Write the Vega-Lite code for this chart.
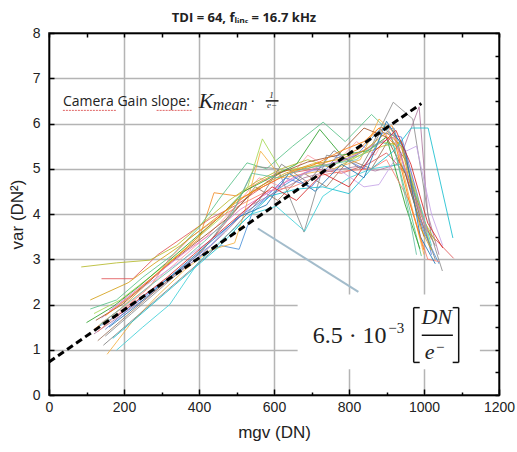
{
  "$schema": "https://vega.github.io/schema/vega-lite/v6.json",
  "width": 450,
  "height": 362,
  "autosize": "none",
  "padding": {"left": 49, "top": 33, "right": 18, "bottom": 57},
  "background": "white",
  "view": {"stroke": "#000", "strokeWidth": 1.5},
  "title": {"text": "TDI = 64, fₗᵢₙₑ = 16.7 kHz", "font": "Open Sans", "fontSize": 13, "fontWeight": "bold", "color": "#222", "dx": -30, "offset": 1},
  "datasets": {
    "lines": [
      {"s":"s01","x":130,"y":1.5},{"s":"s01","x":200,"y":1.85},{"s":"s01","x":270,"y":2.3},{"s":"s01","x":340,"y":2.7},{"s":"s01","x":410,"y":3.1},{"s":"s01","x":460,"y":3.3},{"s":"s01","x":507,"y":3.22},{"s":"s01","x":545,"y":4.1},{"s":"s01","x":610,"y":4.55},{"s":"s01","x":680,"y":4.9},{"s":"s01","x":750,"y":5.1},{"s":"s01","x":820,"y":5.3},{"s":"s01","x":880,"y":5.85},{"s":"s01","x":920,"y":5.9},{"s":"s01","x":960,"y":4.6},{"s":"s01","x":1000,"y":3.6},{"s":"s01","x":1040,"y":2.9},
      {"s":"s02","x":120,"y":1.45},{"s":"s02","x":190,"y":1.9},{"s":"s02","x":260,"y":2.45},{"s":"s02","x":330,"y":3.0},{"s":"s02","x":400,"y":3.45},{"s":"s02","x":440,"y":4.47},{"s":"s02","x":500,"y":4.4},{"s":"s02","x":560,"y":4.7},{"s":"s02","x":620,"y":4.95},{"s":"s02","x":690,"y":5.0},{"s":"s02","x":760,"y":5.2},{"s":"s02","x":830,"y":5.45},{"s":"s02","x":880,"y":5.9},{"s":"s02","x":915,"y":5.95},{"s":"s02","x":950,"y":5.0},{"s":"s02","x":1020,"y":3.44},
      {"s":"s03","x":110,"y":1.9},{"s":"s03","x":180,"y":2.1},{"s":"s03","x":250,"y":2.6},{"s":"s03","x":330,"y":3.1},{"s":"s03","x":400,"y":3.7},{"s":"s03","x":460,"y":4.4},{"s":"s03","x":528,"y":5.13},{"s":"s03","x":580,"y":5.0},{"s":"s03","x":650,"y":5.5},{"s":"s03","x":731,"y":6.03},{"s":"s03","x":790,"y":5.6},{"s":"s03","x":860,"y":6.2},{"s":"s03","x":910,"y":5.8},{"s":"s03","x":950,"y":4.5},{"s":"s03","x":993,"y":3.07},
      {"s":"s04","x":140,"y":2.57},{"s":"s04","x":224,"y":2.57},{"s":"s04","x":290,"y":3.1},{"s":"s04","x":360,"y":3.5},{"s":"s04","x":430,"y":3.9},{"s":"s04","x":500,"y":4.2},{"s":"s04","x":570,"y":4.6},{"s":"s04","x":640,"y":4.9},{"s":"s04","x":710,"y":5.0},{"s":"s04","x":780,"y":4.9},{"s":"s04","x":850,"y":5.1},{"s":"s04","x":900,"y":5.35},{"s":"s04","x":950,"y":4.9},{"s":"s04","x":1000,"y":3.7},{"s":"s04","x":1079,"y":3.02},
      {"s":"s05","x":120,"y":1.35},{"s":"s05","x":190,"y":1.75},{"s":"s05","x":260,"y":2.15},{"s":"s05","x":330,"y":2.6},{"s":"s05","x":400,"y":3.05},{"s":"s05","x":470,"y":3.6},{"s":"s05","x":540,"y":4.2},{"s":"s05","x":610,"y":4.5},{"s":"s05","x":680,"y":4.8},{"s":"s05","x":750,"y":4.95},{"s":"s05","x":820,"y":5.05},{"s":"s05","x":870,"y":4.95},{"s":"s05","x":930,"y":5.1},{"s":"s05","x":987,"y":6.37},{"s":"s05","x":1010,"y":4.0},{"s":"s05","x":1040,"y":3.1},
      {"s":"s06","x":130,"y":1.2},{"s":"s06","x":200,"y":1.7},{"s":"s06","x":270,"y":2.2},{"s":"s06","x":340,"y":2.7},{"s":"s06","x":410,"y":3.2},{"s":"s06","x":480,"y":3.9},{"s":"s06","x":550,"y":4.6},{"s":"s06","x":610,"y":4.3},{"s":"s06","x":680,"y":4.9},{"s":"s06","x":740,"y":4.6},{"s":"s06","x":800,"y":5.2},{"s":"s06","x":860,"y":5.0},{"s":"s06","x":910,"y":5.7},{"s":"s06","x":950,"y":5.2},{"s":"s06","x":1000,"y":3.8},{"s":"s06","x":1030,"y":3.3},
      {"s":"s07","x":140,"y":1.6},{"s":"s07","x":210,"y":2.0},{"s":"s07","x":280,"y":2.5},{"s":"s07","x":350,"y":3.0},{"s":"s07","x":420,"y":3.5},{"s":"s07","x":490,"y":4.1},{"s":"s07","x":560,"y":4.8},{"s":"s07","x":620,"y":4.6},{"s":"s07","x":690,"y":5.3},{"s":"s07","x":750,"y":5.0},{"s":"s07","x":820,"y":5.6},{"s":"s07","x":870,"y":5.3},{"s":"s07","x":910,"y":5.9},{"s":"s07","x":955,"y":5.2},{"s":"s07","x":1000,"y":3.9},
      {"s":"s08","x":150,"y":1.3},{"s":"s08","x":220,"y":1.8},{"s":"s08","x":290,"y":2.3},{"s":"s08","x":360,"y":2.8},{"s":"s08","x":430,"y":3.4},{"s":"s08","x":500,"y":4.2},{"s":"s08","x":550,"y":5.05},{"s":"s08","x":610,"y":5.0},{"s":"s08","x":680,"y":3.6},{"s":"s08","x":740,"y":5.3},{"s":"s08","x":800,"y":5.2},{"s":"s08","x":860,"y":5.5},{"s":"s08","x":918,"y":6.47},{"s":"s08","x":970,"y":6.1},{"s":"s08","x":1020,"y":3.5},{"s":"s08","x":1049,"y":2.74},
      {"s":"s09","x":86,"y":2.83},{"s":"s09","x":180,"y":2.92},{"s":"s09","x":269,"y":2.98},{"s":"s09","x":340,"y":3.3},{"s":"s09","x":410,"y":3.8},{"s":"s09","x":480,"y":4.3},{"s":"s09","x":550,"y":4.7},{"s":"s09","x":620,"y":5.0},{"s":"s09","x":690,"y":5.2},{"s":"s09","x":760,"y":5.0},{"s":"s09","x":830,"y":5.3},{"s":"s09","x":890,"y":5.5},{"s":"s09","x":940,"y":5.6},{"s":"s09","x":990,"y":4.0},{"s":"s09","x":1030,"y":3.4},
      {"s":"s10","x":180,"y":0.99},{"s":"s10","x":250,"y":1.5},{"s":"s10","x":322,"y":2.0},{"s":"s10","x":397,"y":2.92},{"s":"s10","x":470,"y":3.5},{"s":"s10","x":540,"y":4.0},{"s":"s10","x":606,"y":4.17},{"s":"s10","x":682,"y":3.62},{"s":"s10","x":730,"y":4.39},{"s":"s10","x":800,"y":4.8},{"s":"s10","x":860,"y":5.0},{"s":"s10","x":940,"y":5.1},{"s":"s10","x":990,"y":4.2},{"s":"s10","x":1020,"y":3.3},
      {"s":"s11","x":150,"y":1.45},{"s":"s11","x":220,"y":1.95},{"s":"s11","x":290,"y":2.4},{"s":"s11","x":360,"y":2.85},{"s":"s11","x":430,"y":3.3},{"s":"s11","x":500,"y":3.9},{"s":"s11","x":570,"y":4.3},{"s":"s11","x":630,"y":4.8},{"s":"s11","x":700,"y":4.6},{"s":"s11","x":770,"y":5.3},{"s":"s11","x":840,"y":5.0},{"s":"s11","x":890,"y":5.8},{"s":"s11","x":940,"y":5.7},{"s":"s11","x":980,"y":4.5},{"s":"s11","x":1020,"y":3.1},
      {"s":"s12","x":155,"y":0.9},{"s":"s12","x":220,"y":1.6},{"s":"s12","x":290,"y":2.2},{"s":"s12","x":360,"y":2.75},{"s":"s12","x":430,"y":3.2},{"s":"s12","x":495,"y":3.36},{"s":"s12","x":520,"y":4.0},{"s":"s12","x":564,"y":5.39},{"s":"s12","x":620,"y":4.8},{"s":"s12","x":690,"y":4.9},{"s":"s12","x":760,"y":5.0},{"s":"s12","x":830,"y":5.2},{"s":"s12","x":880,"y":6.1},{"s":"s12","x":920,"y":5.8},{"s":"s12","x":960,"y":4.4},{"s":"s12","x":1000,"y":3.1},
      {"s":"s13","x":120,"y":1.8},{"s":"s13","x":190,"y":2.1},{"s":"s13","x":260,"y":2.55},{"s":"s13","x":330,"y":3.0},{"s":"s13","x":400,"y":3.5},{"s":"s13","x":470,"y":4.0},{"s":"s13","x":530,"y":4.6},{"s":"s13","x":569,"y":5.66},{"s":"s13","x":620,"y":4.95},{"s":"s13","x":690,"y":5.05},{"s":"s13","x":760,"y":5.1},{"s":"s13","x":830,"y":5.3},{"s":"s13","x":890,"y":5.6},{"s":"s13","x":940,"y":5.5},{"s":"s13","x":985,"y":4.3},{"s":"s13","x":1020,"y":3.2},
      {"s":"s14","x":100,"y":1.6},{"s":"s14","x":170,"y":1.95},{"s":"s14","x":240,"y":2.4},{"s":"s14","x":310,"y":2.9},{"s":"s14","x":380,"y":3.4},{"s":"s14","x":450,"y":3.9},{"s":"s14","x":520,"y":4.5},{"s":"s14","x":590,"y":4.8},{"s":"s14","x":660,"y":5.1},{"s":"s14","x":722,"y":5.87},{"s":"s14","x":780,"y":5.3},{"s":"s14","x":850,"y":5.4},{"s":"s14","x":900,"y":5.7},{"s":"s14","x":950,"y":4.2},{"s":"s14","x":989,"y":3.23},
      {"s":"s15","x":130,"y":1.4},{"s":"s15","x":200,"y":1.9},{"s":"s15","x":270,"y":2.4},{"s":"s15","x":320,"y":3.0},{"s":"s15","x":380,"y":3.5},{"s":"s15","x":440,"y":3.85},{"s":"s15","x":510,"y":4.2},{"s":"s15","x":580,"y":4.5},{"s":"s15","x":650,"y":4.6},{"s":"s15","x":720,"y":4.85},{"s":"s15","x":790,"y":4.95},{"s":"s15","x":860,"y":5.0},{"s":"s15","x":900,"y":5.2},{"s":"s15","x":960,"y":4.3},{"s":"s15","x":1010,"y":3.0},{"s":"s15","x":1040,"y":2.95},
      {"s":"s16","x":140,"y":1.7},{"s":"s16","x":210,"y":2.15},{"s":"s16","x":280,"y":2.55},{"s":"s16","x":350,"y":2.95},{"s":"s16","x":420,"y":3.35},{"s":"s16","x":490,"y":3.8},{"s":"s16","x":560,"y":4.35},{"s":"s16","x":630,"y":4.7},{"s":"s16","x":700,"y":4.95},{"s":"s16","x":770,"y":5.0},{"s":"s16","x":840,"y":4.6},{"s":"s16","x":880,"y":4.65},{"s":"s16","x":930,"y":5.3},{"s":"s16","x":980,"y":5.5},{"s":"s16","x":1020,"y":4.0},{"s":"s16","x":1050,"y":3.3},
      {"s":"s17","x":125,"y":1.65},{"s":"s17","x":195,"y":2.0},{"s":"s17","x":265,"y":2.5},{"s":"s17","x":335,"y":3.0},{"s":"s17","x":405,"y":3.45},{"s":"s17","x":475,"y":3.9},{"s":"s17","x":545,"y":4.5},{"s":"s17","x":615,"y":4.9},{"s":"s17","x":690,"y":5.15},{"s":"s17","x":770,"y":5.3},{"s":"s17","x":840,"y":5.9},{"s":"s17","x":900,"y":5.7},{"s":"s17","x":950,"y":4.9},{"s":"s17","x":1000,"y":3.5},
      {"s":"s18","x":160,"y":1.85},{"s":"s18","x":230,"y":2.3},{"s":"s18","x":300,"y":2.75},{"s":"s18","x":370,"y":3.2},{"s":"s18","x":440,"y":3.6},{"s":"s18","x":510,"y":4.1},{"s":"s18","x":580,"y":4.45},{"s":"s18","x":650,"y":4.8},{"s":"s18","x":720,"y":5.05},{"s":"s18","x":790,"y":5.2},{"s":"s18","x":860,"y":5.5},{"s":"s18","x":920,"y":5.7},{"s":"s18","x":970,"y":4.5},{"s":"s18","x":1010,"y":3.6},
      {"s":"s19","x":145,"y":1.1},{"s":"s19","x":215,"y":1.6},{"s":"s19","x":285,"y":2.1},{"s":"s19","x":355,"y":2.6},{"s":"s19","x":425,"y":3.1},{"s":"s19","x":495,"y":3.7},{"s":"s19","x":560,"y":4.3},{"s":"s19","x":620,"y":5.1},{"s":"s19","x":690,"y":4.7},{"s":"s19","x":760,"y":5.4},{"s":"s19","x":830,"y":5.0},{"s":"s19","x":890,"y":5.9},{"s":"s19","x":940,"y":5.6},{"s":"s19","x":990,"y":3.9},{"s":"s19","x":1030,"y":3.0},
      {"s":"s20","x":110,"y":2.1},{"s":"s20","x":211,"y":2.48},{"s":"s20","x":280,"y":2.9},{"s":"s20","x":350,"y":3.3},{"s":"s20","x":420,"y":3.75},{"s":"s20","x":490,"y":4.2},{"s":"s20","x":560,"y":4.6},{"s":"s20","x":630,"y":4.9},{"s":"s20","x":700,"y":5.1},{"s":"s20","x":770,"y":5.2},{"s":"s20","x":840,"y":5.4},{"s":"s20","x":900,"y":5.8},{"s":"s20","x":940,"y":5.5},{"s":"s20","x":990,"y":3.7},{"s":"s20","x":1020,"y":3.2},
      {"s":"s21","x":170,"y":1.25},{"s":"s21","x":240,"y":1.75},{"s":"s21","x":310,"y":2.25},{"s":"s21","x":380,"y":2.75},{"s":"s21","x":450,"y":3.25},{"s":"s21","x":520,"y":3.85},{"s":"s21","x":590,"y":4.4},{"s":"s21","x":660,"y":4.55},{"s":"s21","x":730,"y":4.6},{"s":"s21","x":800,"y":4.45},{"s":"s21","x":860,"y":5.0},{"s":"s21","x":920,"y":5.4},{"s":"s21","x":966,"y":5.9},{"s":"s21","x":1011,"y":5.9},{"s":"s21","x":1077,"y":3.47},
      {"s":"s22","x":160,"y":1.5},{"s":"s22","x":230,"y":1.95},{"s":"s22","x":300,"y":2.45},{"s":"s22","x":370,"y":2.95},{"s":"s22","x":440,"y":3.45},{"s":"s22","x":510,"y":3.95},{"s":"s22","x":580,"y":4.2},{"s":"s22","x":640,"y":4.9},{"s":"s22","x":710,"y":4.5},{"s":"s22","x":780,"y":5.1},{"s":"s22","x":840,"y":4.8},{"s":"s22","x":900,"y":6.05},{"s":"s22","x":950,"y":5.4},{"s":"s22","x":990,"y":3.5},{"s":"s22","x":1030,"y":2.9},
      {"s":"s23","x":150,"y":1.75},{"s":"s23","x":220,"y":2.2},{"s":"s23","x":290,"y":2.7},{"s":"s23","x":360,"y":3.2},{"s":"s23","x":430,"y":3.75},{"s":"s23","x":500,"y":4.3},{"s":"s23","x":570,"y":4.6},{"s":"s23","x":640,"y":4.9},{"s":"s23","x":710,"y":5.1},{"s":"s23","x":780,"y":5.4},{"s":"s23","x":840,"y":5.6},{"s":"s23","x":880,"y":5.9},{"s":"s23","x":925,"y":5.5},{"s":"s23","x":960,"y":4.3},{"s":"s23","x":1000,"y":3.2},
      {"s":"s24","x":135,"y":1.55},{"s":"s24","x":205,"y":2.0},{"s":"s24","x":275,"y":2.45},{"s":"s24","x":345,"y":2.9},{"s":"s24","x":415,"y":3.4},{"s":"s24","x":485,"y":3.95},{"s":"s24","x":540,"y":4.9},{"s":"s24","x":610,"y":4.8},{"s":"s24","x":680,"y":5.0},{"s":"s24","x":750,"y":5.1},{"s":"s24","x":820,"y":5.2},{"s":"s24","x":880,"y":5.6},{"s":"s24","x":920,"y":5.5},{"s":"s24","x":960,"y":4.0},{"s":"s24","x":980,"y":3.1},
      {"s":"s25","x":175,"y":1.7},{"s":"s25","x":245,"y":2.15},{"s":"s25","x":315,"y":2.6},{"s":"s25","x":385,"y":3.1},{"s":"s25","x":455,"y":3.6},{"s":"s25","x":525,"y":4.1},{"s":"s25","x":595,"y":4.6},{"s":"s25","x":660,"y":4.3},{"s":"s25","x":730,"y":4.9},{"s":"s25","x":800,"y":4.6},{"s":"s25","x":870,"y":5.4},{"s":"s25","x":925,"y":5.85},{"s":"s25","x":965,"y":5.1},{"s":"s25","x":1010,"y":3.8},{"s":"s25","x":1050,"y":3.25}
    ],
    "fit": [{"x": 0, "y": 0.73}, {"x": 993, "y": 6.44}],
    "box": [{"x": 663, "x2": 1149, "y": 0.57, "y2": 2.22}],
    "pointer": [{"x": 557, "y": 3.68, "x2": 825, "y2": 2.28}],
    "squiggle": [{"x": 37, "x2": 181, "y": 6.29, "y2": 6.29}, {"x": 287, "x2": 383, "y": 6.29, "y2": 6.29}],
    "strokes": [
      {"x": 972.5, "x2": 972.5, "y": 1.93, "y2": 0.72},
      {"x": 972.5, "x2": 988.5, "y": 1.93, "y2": 1.93},
      {"x": 972.5, "x2": 988.5, "y": 0.72, "y2": 0.72},
      {"x": 1092.5, "x2": 1092.5, "y": 1.93, "y2": 0.72},
      {"x": 1076.5, "x2": 1092.5, "y": 1.93, "y2": 1.93},
      {"x": 1076.5, "x2": 1092.5, "y": 0.72, "y2": 0.72},
      {"x": 994, "x2": 1077, "y": 1.32, "y2": 1.32},
      {"x": 578, "x2": 612, "y": 6.5, "y2": 6.5}
    ],
    "tSans": [{"t": "Camera Gain slope:", "x": 37, "y": 6.38}],
    "tItalicBig": [{"t": "K", "x": 419, "y": 6.35}, {"t": "DN", "x": 1034, "y": 1.56}, {"t": "e", "x": 1015, "y": 0.79}],
    "tItalicMid": [{"t": "mean", "x": 483, "y": 6.29}],
    "tSerifMid": [{"t": "·", "x": 543, "y": 6.38}, {"t": "−3", "x": 926, "y": 1.36}, {"t": "−", "x": 1043, "y": 0.96}],
    "tSmall": [{"t": "1", "x": 593, "y": 6.56}, {"t": "e−", "x": 595, "y": 6.34}],
    "tBig": [{"t": "6.5 · 10", "x": 703, "y": 1.16}]
  },
  "layer": [
    {
      "data": {"name": "box"},
      "mark": {"type": "rect", "fill": "white"},
      "encoding": {
        "x": {"field": "x", "type": "quantitative", "scale": {"domain": [0, 1200], "nice": false},
          "axis": {
            "values": [0,100,200,300,400,500,600,700,800,900,1000,1100,1200],
            "format": "d",
            "labelExpr": "datum.value % 200 === 0 ? datum.label : ''",
            "labelOverlap": false, "labelFlush": false,
            "labelFont": "Liberation Sans", "labelFontSize": 14, "labelColor": "#222", "labelPadding": 11,
            "tickSize": {"condition": {"test": "datum.value % 200 === 0", "value": -6}, "value": -3},
            "tickColor": "#000", "tickWidth": 1.5,
            "grid": true, "gridColor": {"condition": {"test": "datum.value % 200 === 0", "value": "#b4b4b4"}, "value": "transparent"}, "gridWidth": 1.5,
            "domainColor": "#000", "domainWidth": 1.5,
            "title": "mgv (DN)", "titleFont": "Liberation Sans", "titleFontSize": 17, "titleFontWeight": "normal", "titleColor": "#222", "titlePadding": 7
          }},
        "x2": {"field": "x2"},
        "y": {"field": "y", "type": "quantitative", "scale": {"domain": [0, 8], "nice": false},
          "axis": {
            "values": [0,0.5,1,1.5,2,2.5,3,3.5,4,4.5,5,5.5,6,6.5,7,7.5,8],
            "format": "d",
            "labelExpr": "datum.value % 1 === 0 ? datum.label : ''",
            "labelOverlap": false, "labelFlush": false,
            "labelFont": "Liberation Sans", "labelFontSize": 14, "labelColor": "#222", "labelPadding": 14,
            "tickSize": -5,
            "tickColor": "#000", "tickWidth": 1.5,
            "grid": true, "gridColor": {"condition": {"test": "datum.value % 1 === 0", "value": "#b4b4b4"}, "value": "transparent"}, "gridWidth": 1.5,
            "domainColor": "#000", "domainWidth": 1.5,
            "title": "var (DN²)", "titleFont": "Liberation Sans", "titleFontSize": 17, "titleFontWeight": "normal", "titleColor": "#222", "titlePadding": 6
          }},
        "y2": {"field": "y2"}
      }
    },
    {
      "data": {"name": "lines"},
      "mark": {"type": "line", "strokeWidth": 1, "opacity": 0.85},
      "encoding": {
        "x": {"field": "x", "type": "quantitative", "axis": null},
        "y": {"field": "y", "type": "quantitative", "axis": null},
        "color": {"field": "s", "type": "nominal", "legend": null,
          "scale": {"range": ["#4a90d9","#f28e2b","#59c28a","#e15759","#b07aa1","#9c755f","#ff9da7","#8c8c8c","#b5b82a","#3fd0d8","#5b7fe0","#f5b041","#a6d854","#2ca02c","#fa8072","#c5a3e8","#a0522d","#e377c2","#7f7f7f","#d4a017","#17becf","#1f77b4","#ff7f0e","#66c2a5","#d62728"]}}
      }
    },
    {
      "data": {"name": "pointer"},
      "mark": {"type": "rule", "color": "#a3bccb", "strokeWidth": 2},
      "encoding": {
        "x": {"field": "x", "type": "quantitative", "axis": null},
        "x2": {"field": "x2"},
        "y": {"field": "y", "type": "quantitative", "axis": null},
        "y2": {"field": "y2"}
      }
    },
    {
      "data": {"name": "fit"},
      "mark": {"type": "line", "color": "#000", "strokeWidth": 3, "strokeDash": [7, 4]},
      "encoding": {
        "x": {"field": "x", "type": "quantitative",
          "axis": {"orient": "top", "values": [0,100,200,300,400,500,600,700,800,900,1000,1100,1200], "labels": false, "grid": false, "tickSize": -4, "tickColor": "#000", "tickWidth": 1.5, "domainColor": "#000", "domainWidth": 1.5, "title": null}},
        "y": {"field": "y", "type": "quantitative",
          "axis": {"orient": "right", "values": [0,0.5,1,1.5,2,2.5,3,3.5,4,4.5,5,5.5,6,6.5,7,7.5,8], "labels": false, "grid": false, "tickSize": -4, "tickColor": "#000", "tickWidth": 1.5, "domainColor": "#000", "domainWidth": 1.5, "title": null}}
      }
    },
    {
      "data": {"name": "squiggle"},
      "mark": {"type": "rule", "color": "#e06666", "strokeWidth": 1, "strokeDash": [2, 1]},
      "encoding": {
        "x": {"field": "x", "type": "quantitative", "axis": null},
        "x2": {"field": "x2"},
        "y": {"field": "y", "type": "quantitative", "axis": null},
        "y2": {"field": "y2"}
      }
    },
    {
      "data": {"name": "strokes"},
      "mark": {"type": "rule", "color": "#111", "strokeWidth": 1.5},
      "encoding": {
        "x": {"field": "x", "type": "quantitative", "axis": null},
        "x2": {"field": "x2"},
        "y": {"field": "y", "type": "quantitative", "axis": null},
        "y2": {"field": "y2"}
      }
    },
    {
      "data": {"name": "tSans"},
      "mark": {"type": "text", "font": "Open Sans", "fontSize": 14, "color": "#222", "align": "left", "baseline": "alphabetic"},
      "encoding": {
        "x": {"field": "x", "type": "quantitative", "axis": null},
        "y": {"field": "y", "type": "quantitative", "axis": null},
        "text": {"field": "t"}
      }
    },
    {
      "data": {"name": "tItalicBig"},
      "mark": {"type": "text", "font": "Liberation Serif", "fontStyle": "italic", "fontSize": 22, "color": "#222", "align": "center", "baseline": "alphabetic"},
      "encoding": {
        "x": {"field": "x", "type": "quantitative", "axis": null},
        "y": {"field": "y", "type": "quantitative", "axis": null},
        "text": {"field": "t"}
      }
    },
    {
      "data": {"name": "tItalicMid"},
      "mark": {"type": "text", "font": "Liberation Serif", "fontStyle": "italic", "fontSize": 16, "color": "#222", "align": "center", "baseline": "alphabetic"},
      "encoding": {
        "x": {"field": "x", "type": "quantitative", "axis": null},
        "y": {"field": "y", "type": "quantitative", "axis": null},
        "text": {"field": "t"}
      }
    },
    {
      "data": {"name": "tSerifMid"},
      "mark": {"type": "text", "font": "Liberation Serif", "fontSize": 15, "color": "#222", "align": "center", "baseline": "alphabetic"},
      "encoding": {
        "x": {"field": "x", "type": "quantitative", "axis": null},
        "y": {"field": "y", "type": "quantitative", "axis": null},
        "text": {"field": "t"}
      }
    },
    {
      "data": {"name": "tSmall"},
      "mark": {"type": "text", "font": "Liberation Serif", "fontStyle": "italic", "fontSize": 9, "color": "#222", "align": "center", "baseline": "alphabetic"},
      "encoding": {
        "x": {"field": "x", "type": "quantitative", "axis": null},
        "y": {"field": "y", "type": "quantitative", "axis": null},
        "text": {"field": "t"}
      }
    },
    {
      "data": {"name": "tBig"},
      "mark": {"type": "text", "font": "Liberation Serif", "fontSize": 24, "color": "#222", "align": "left", "baseline": "alphabetic"},
      "encoding": {
        "x": {"field": "x", "type": "quantitative", "axis": null},
        "y": {"field": "y", "type": "quantitative", "axis": null},
        "text": {"field": "t"}
      }
    }
  ],
  "resolve": {"axis": {"x": "independent", "y": "independent"}}
}
